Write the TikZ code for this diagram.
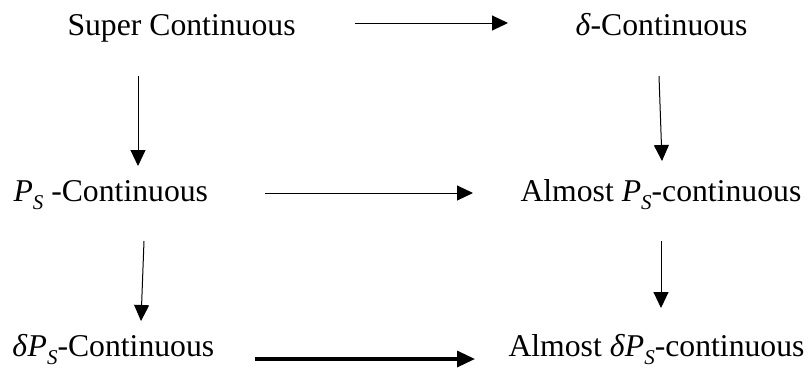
\documentclass[tikz,border=0pt]{standalone}
\usepackage{fontspec}
\setmainfont{Liberation Serif}
\usetikzlibrary{arrows.meta,positioning}
\newcommand{\psub}{\textit{P}\raisebox{-0.28em}{\fontsize{21}{21}\selectfont\textit{S}}}

\begin{document}
\begin{tikzpicture}[x=1pt,y=-1pt,->,>={Triangle[length=16pt,width=15pt]},line width=1pt,
  lbl/.style={anchor=base west,inner sep=0pt,font=\fontsize{31.7}{38}\selectfont}]
\useasboundingbox (0,0) rectangle (810,376);
\node[lbl] (sc) at (67,35) {Super Continuous};
\node[lbl] (dc) at (575,35) {\textit{δ}-Continuous};
\node[lbl] (pc) at (13,201) {\psub\ -Continuous};
\node[lbl] (apc) at (520,201) {Almost \psub-continuous};
\node[lbl] (dpc) at (12,356) {\textit{δ}\psub-Continuous};
\node[lbl] (adpc) at (508,356) {Almost \textit{δ}\psub-continuous};
% arrow ends
\coordinate (sc-out) at (355,23);
\coordinate (dc-in) at (508,23);
\coordinate (sc-down) at (138,76);
\coordinate (pc-in) at (138,166);
\coordinate (dc-down) at (659,76);
\coordinate (apc-in) at (662,161);
\coordinate (pc-out) at (265,193);
\coordinate (apc-left) at (473,193);
\coordinate (pc-down) at (144,241);
\coordinate (dpc-in) at (141,321);
\coordinate (apc-down) at (661,241);
\coordinate (adpc-in) at (661,308);
\coordinate (dpc-out) at (255,359);
\coordinate (adpc-left) at (475,359);
\draw (sc-out) -- (dc-in);
\draw (sc-down) -- (pc-in);
\draw (dc-down) -- (apc-in);
\draw (pc-out) -- (apc-left);
\draw (pc-down) -- (dpc-in);
\draw (apc-down) -- (adpc-in);
\draw[line width=3.3pt,>={Triangle[length=18pt,width=16pt]}] (dpc-out) -- (adpc-left);
\end{tikzpicture}
\end{document}
